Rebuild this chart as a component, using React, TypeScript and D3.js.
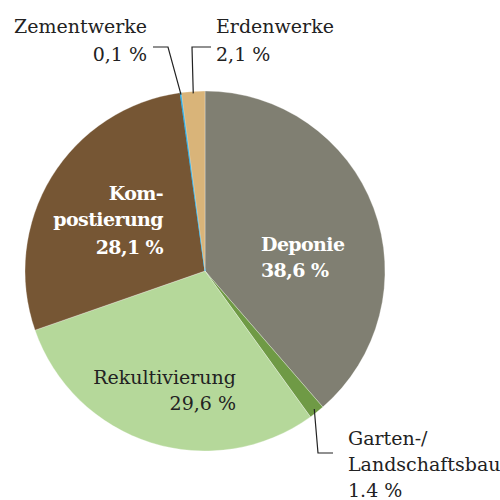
import React from "react";
import * as d3 from "d3";

const categories = ["Deponie", "Garten-/Landschaftsbau", "Rekultivierung", "Kompostierung", "Zementwerke", "Erdenwerke"];
const values = [38.6, 1.4, 29.6, 28.1, 0.1, 2.1];
const valueLabels = ["38,6 %", "1.4 %", "29,6 %", "28,1 %", "0,1 %", "2,1 %"];
const colors = ["#807f72", "#6f9a45", "#b5d89a", "#765634", "#29a9e0", "#d9b479"];

const width = 500;
const height = 500;
const cx = 205;
const cy = 271;
const radius = 180;
const font = "'DejaVu Serif', serif";
const fs = 19;

const App = () => {
  const pie = d3.pie<number>().value(d => d).sort(null);
  const arcs = pie(values);
  const arc = d3.arc<d3.PieArcDatum<number>>().innerRadius(0).outerRadius(radius);

  // point on the rim at the middle of a slice
  const rim = (i: number, r: number) => {
    const a = (arcs[i].startAngle + arcs[i].endAngle) / 2;
    return [cx + r * Math.sin(a), cy - r * Math.cos(a)];
  };

  const zem = rim(4, radius - 2);
  const erd = rim(5, radius - 2);
  const gar = rim(1, radius - 4);

  return (
    <svg width={width} height={height} style={{ position: "absolute", left: 0, top: 0 }}>
      <rect width={width} height={height} fill="#fff" />
      <g transform={`translate(${cx},${cy})`}>
        {arcs.map((d, i) => (
          <path
            key={categories[i]}
            d={arc(d) || ""}
            fill={colors[i]}
            stroke={i === 4 ? colors[i] : "#fff"}
            strokeWidth={i === 4 ? 1 : 0.3}
          />
        ))}
      </g>

      {/* leader lines */}
      <g fill="none" stroke="#222" strokeWidth={1.2}>
        <polyline points={`153,47 168,47 ${zem[0]},${zem[1]}`} />
        <polyline points={`211,47 192,47 ${erd[0]},${erd[1]}`} />
        <polyline points={`${gar[0]},${gar[1]} 318,453 333,453`} />
      </g>

      <g fontFamily={font} fontSize={fs} fill="#222">
        <text x={147} y={33} textAnchor="end">{categories[4]}</text>
        <text x={147} y={61} textAnchor="end">{valueLabels[4]}</text>
        <text x={216} y={33}>{categories[5]}</text>
        <text x={216} y={61}>{valueLabels[5]}</text>
        <text x={348} y={445}>Garten-/</text>
        <text x={348} y={471}>Landschaftsbau</text>
        <text x={348} y={497}>{valueLabels[1]}</text>
        <text x={236} y={384} textAnchor="end">{categories[2]}</text>
        <text x={236} y={410} textAnchor="end">{valueLabels[2]}</text>
      </g>
      <g fontFamily={font} fontSize={fs} fontWeight="bold" fill="#fff" letterSpacing={-0.6}>
        <text x={261} y={251}>{categories[0]}</text>
        <text x={261} y={277}>{valueLabels[0]}</text>
        <text x={163} y={200} textAnchor="end">Kom-</text>
        <text x={163} y={226} textAnchor="end">postierung</text>
        <text x={163} y={254} textAnchor="end">{valueLabels[3]}</text>
      </g>
    </svg>
  );
};

export default App;
